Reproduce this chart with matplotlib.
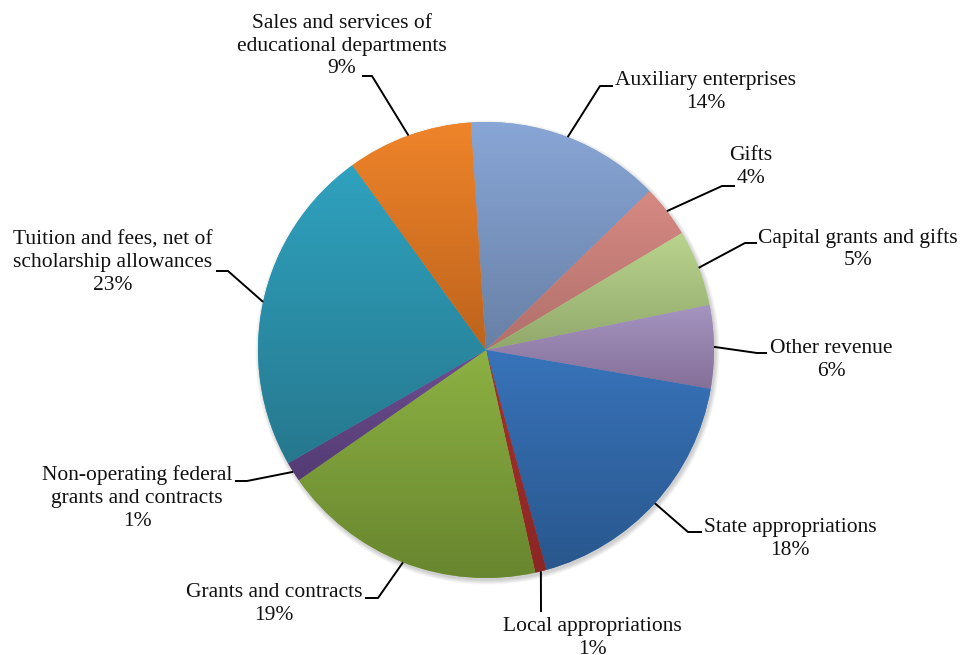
import numpy as np
import matplotlib
matplotlib.use("Agg")
import matplotlib.pyplot as plt
from matplotlib.patches import Circle
from matplotlib.colors import to_rgb

# Revenue shares, clockwise from the top of the pie
categories = [
    "Auxiliary enterprises",
    "Gifts",
    "Capital grants and gifts",
    "Other revenue",
    "State appropriations",
    "Local appropriations",
    "Grants and contracts",
    "Non-operating federal\ngrants and contracts",
    "Tuition and fees, net of\nscholarship allowances",
    "Sales and services of\neducational departments",
]
shares = [13.8, 3.7, 5.4, 5.9, 18.0, 0.8, 18.8, 1.4, 23.3, 8.9]

# each slice fades from a light top to a darker bottom
top_colors = ["#88a6d6", "#d78983", "#bad48e", "#a595c1", "#3873ba",
              "#a8332f", "#8db143", "#6e4f92", "#2fa2bf", "#ef842a"]
bottom_colors = ["#6880a6", "#b0706b", "#91a86b", "#846f98", "#29578d",
                 "#8a2623", "#68862f", "#543b73", "#26788e", "#bd631c"]

# label block centre and leader elbow/end, in pixels from the top-left corner
label_pos = [(706, 92), (751, 167), (858, 249), (831, 360), (790, 539),
             (592, 638), (274, 604), (137, 498), (113, 263), (342, 46)]
leader_elbow = [((600, 86), (613, 86)), ((722, 186), (735, 186)),
                ((745, 243), (757, 243)), ((757, 353), (767, 353)),
                ((688, 532), (702, 532)), ((541, 612), (541, 612)),
                ((378, 598), (365, 598)), ((247, 481), (235, 481)),
                ((228, 271), (216, 271)), ((372, 76), (362, 76))]

W, H = 962, 655
CX, CY, R = 486, H - 350, 228
FONT = "Liberation Serif"

fig = plt.figure(figsize=(W / 100, H / 100), dpi=100, facecolor="white")
ax = fig.add_axes([0, 0, 1, 1])

# soft drop shadow under the pie
for k in range(8):
    ax.add_patch(Circle((CX + 1.5, CY - 2.5), R + 0.6 * k, facecolor="black",
                        edgecolor="none", alpha=0.025, zorder=0))

wedges, _ = ax.pie(shares, center=(CX, CY), radius=R, startangle=93.85,
                   counterclock=False,
                   colors=top_colors,
                   wedgeprops=dict(edgecolor="none", linewidth=0))

for w, c0, c1 in zip(wedges, top_colors, bottom_colors):
    w.set_zorder(1)
    ext = w.get_path().get_extents()
    t = np.linspace(0, 1, 256)[:, None, None]
    grad = (1 - t) * np.array(to_rgb(c0)) + t * np.array(to_rgb(c1))
    img = ax.imshow(grad, extent=[ext.x0, ext.x1, ext.y0, ext.y1],
                    aspect="auto", interpolation="bilinear", zorder=2)
    img.set_clip_path(w)

# leader lines and labels
for w, share, name, (lx, ly), (elb, end) in zip(wedges, shares, categories,
                                                 label_pos, leader_elbow):
    mid = np.deg2rad((w.theta1 + w.theta2) / 2)
    ex, ey = CX + R * np.cos(mid), CY + R * np.sin(mid)
    ax.plot([ex, elb[0], end[0]], [ey, H - elb[1], H - end[1]],
            color="black", lw=1.4, zorder=3, solid_capstyle="butt")
    ax.text(lx, H - ly, f"{name}\n{share:.0f}%", ha="center", va="center",
            fontsize=15.5, family=FONT, color="#111111", linespacing=1.27,
            zorder=4)

ax.set_xlim(0, W)
ax.set_ylim(0, H)
ax.set_aspect("equal")
ax.axis("off")

fig.savefig("out.png", dpi=100, facecolor="white")
